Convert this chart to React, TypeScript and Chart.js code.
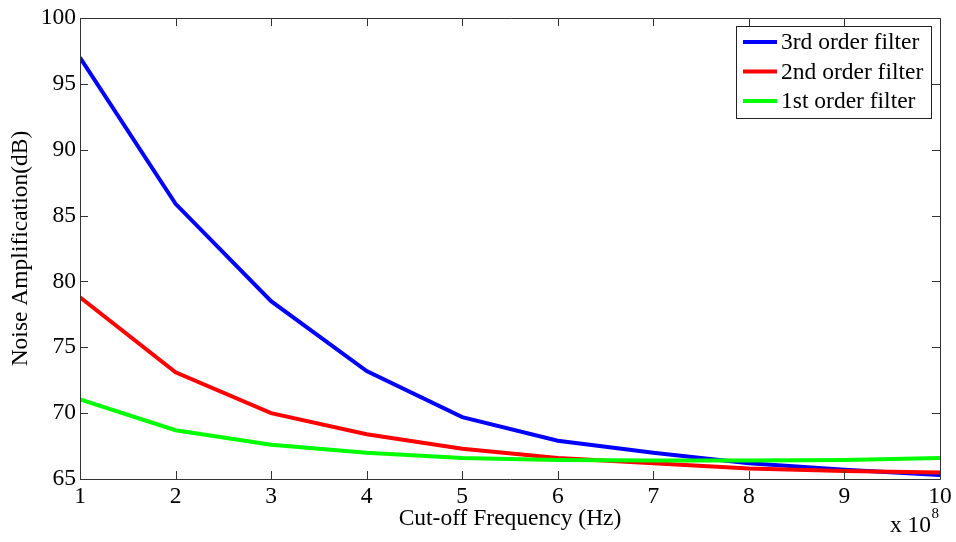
import React, { useEffect, useRef } from "react";
import { Chart, registerables } from "chart.js";

Chart.register(...registerables);

const freqs = [1, 2, 3, 4, 5, 6, 7, 8, 9, 10];
const thirdOrder = [97.0, 85.9, 78.5, 73.2, 69.7, 67.9, 67.0, 66.2, 65.7, 65.3];
const secondOrder = [78.8, 73.1, 70.0, 68.4, 67.3, 66.6, 66.2, 65.8, 65.6, 65.5];
const firstOrder = [71.05, 68.7, 67.6, 67.0, 66.6, 66.45, 66.4, 66.4, 66.45, 66.6];
const seriesNames = ["3rd order filter", "2nd order filter", "1st order filter"];
const seriesColors = ["#0000ff", "#ff0000", "#00ff00"];
const xTicks = [1, 2, 3, 4, 5, 6, 7, 8, 9, 10];
const yTicks = [65, 70, 75, 80, 85, 90, 95, 100];

const FONT = "'Liberation Serif', 'Times New Roman', serif";
const FS = 23.5;

const framePlugin = {
  id: "frame",
  afterDraw(chart: any) {
    const { ctx, chartArea: a, scales } = chart;
    const xs = scales.x;
    const ys = scales.y;
    ctx.save();
    ctx.strokeStyle = "#333";
    ctx.lineWidth = 1;
    ctx.beginPath();
    ctx.rect(Math.round(a.left) + 0.5, Math.round(a.top) + 0.5, Math.round(a.right - a.left), Math.round(a.bottom - a.top));
    ctx.stroke();
    const tl = 8;
    ctx.beginPath();
    xTicks.forEach((t) => {
      const px = Math.round(xs.getPixelForValue(t)) + 0.5;
      ctx.moveTo(px, a.bottom);
      ctx.lineTo(px, a.bottom - tl);
      ctx.moveTo(px, a.top);
      ctx.lineTo(px, a.top + tl);
    });
    yTicks.forEach((t) => {
      const py = Math.round(ys.getPixelForValue(t)) + 0.5;
      ctx.moveTo(a.left, py);
      ctx.lineTo(a.left + tl, py);
      ctx.moveTo(a.right, py);
      ctx.lineTo(a.right - tl, py);
    });
    ctx.stroke();

    // axis titles
    ctx.fillStyle = "#000";
    ctx.font = `${FS}px ${FONT}`;
    ctx.textAlign = "center";
    ctx.textBaseline = "middle";
    ctx.fillText("Cut-off Frequency (Hz)", (a.left + a.right) / 2, 519);
    ctx.save();
    ctx.translate(21, (a.top + a.bottom) / 2);
    ctx.rotate(-Math.PI / 2);
    ctx.fillText("Noise Amplification(dB)", 0, 0);
    ctx.restore();

    // exponent label
    ctx.textAlign = "right";
    ctx.fillText("x 10", a.right - 9, 526);
    ctx.font = `15px ${FONT}`;
    ctx.fillText("8", a.right - 1, 514);

    // legend
    const lx = 736, ly = 26, lw = 195, lh = 92;
    ctx.fillStyle = "#fff";
    ctx.fillRect(lx, ly, lw, lh);
    ctx.strokeStyle = "#222";
    ctx.strokeRect(lx + 0.5, ly + 0.5, lw, lh);
    ctx.font = `${FS}px ${FONT}`;
    ctx.textAlign = "left";
    ctx.textBaseline = "middle";
    seriesNames.forEach((name, i) => {
      const y = 42 + i * 29.5;
      ctx.strokeStyle = seriesColors[i];
      ctx.lineWidth = 4;
      ctx.beginPath();
      ctx.moveTo(743, y);
      ctx.lineTo(777, y);
      ctx.stroke();
      ctx.fillStyle = "#000";
      ctx.fillText(name, 781, y + 1);
    });
    ctx.restore();
  },
};

export default function App() {
  const ref = useRef<HTMLCanvasElement>(null);
  useEffect(() => {
    document.body.style.margin = "0";
    const toPts = (arr: number[]) => freqs.map((f, i) => ({ x: f, y: arr[i] }));
    const chart = new Chart(ref.current!, {
      type: "line",
      data: {
        datasets: [thirdOrder, secondOrder, firstOrder].map((arr, i) => ({
          label: seriesNames[i],
          data: toPts(arr),
          borderColor: seriesColors[i],
          backgroundColor: seriesColors[i],
          borderWidth: 4,
          pointRadius: 0,
          tension: 0,
          order: 2 - i,
        })),
      },
      options: {
        animation: false,
        responsive: false,
        maintainAspectRatio: false,
        layout: { padding: { top: 16, right: 16, left: 0, bottom: 0 } },
        plugins: { legend: { display: false }, tooltip: { enabled: false } },
        scales: {
          x: {
            type: "linear",
            min: 1,
            max: 10,
            afterFit: (s: any) => { s.height = 63; },
            afterBuildTicks: (s: any) => { s.ticks = xTicks.map((v) => ({ value: v })); },
            grid: { display: false, drawTicks: false },
            border: { display: false },
            ticks: { color: "#000", padding: 4, font: { family: FONT, size: FS }, maxRotation: 0 },
          },
          y: {
            type: "linear",
            min: 65,
            max: 100,
            afterFit: (s: any) => { s.width = 80; },
            afterBuildTicks: (s: any) => { s.ticks = yTicks.map((v) => ({ value: v })); },
            grid: { display: false, drawTicks: false },
            border: { display: false },
            ticks: { color: "#000", padding: 4, font: { family: FONT, size: FS } },
          },
        },
      },
      plugins: [framePlugin],
    });
    return () => chart.destroy();
  }, []);
  return (
    <div style={{ width: 956, height: 542, background: "#fff" }}>
      <canvas ref={ref} width={956} height={542} style={{ display: "block" }} />
    </div>
  );
}
